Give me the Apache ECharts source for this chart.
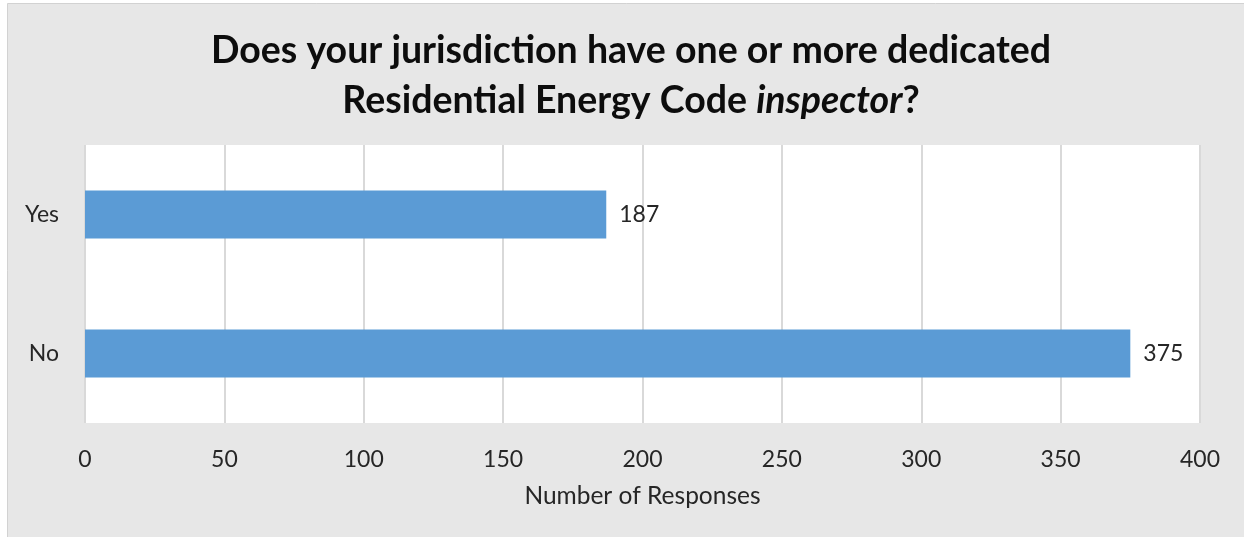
<!DOCTYPE html>
<html>
<head>
<meta charset="utf-8">
<script src="https://cdn.jsdelivr.net/npm/echarts@6/dist/echarts.min.js"></script>
<style>
  html, body { margin: 0; padding: 0; background: #ffffff; }
  #chart { width: 1244px; height: 537px; }
</style>
</head>
<body>
<div id="chart"></div>
<script>
// Survey answers, bottom-to-top order on the category axis
const categories = ['No', 'Yes'];
const responses = [375, 187];
const xTicks = [0, 50, 100, 150, 200, 250, 300, 350, 400];

const FONT = 'Lato, "Open Sans", sans-serif';
const TEXT = '#262626';
const LABEL_SIZE = 23;

const chart = echarts.init(document.getElementById('chart'), null, { renderer: 'canvas' });

chart.setOption({
  animation: false,
  backgroundColor: '#ffffff',
  graphic: [{
    type: 'rect',
    z: -10,
    silent: true,
    shape: { x: 7.5, y: 3.5, width: 1250, height: 550 },
    style: { fill: '#e7e7e7', stroke: '#d2d2d2', lineWidth: 1 }
  }],
  title: {
    left: 626,
    textAlign: 'center',
    top: 21,
    text: '{b|Does your jurisdiction have one or more dedicated}\n{b|Residential Energy Code }{i|inspector}{b|?}',
    textStyle: {
      rich: {
        b: { fontFamily: FONT, fontWeight: 'bold', fontSize: 37.5, color: '#0d0d0d', lineHeight: 50 },
        i: { fontFamily: FONT, fontWeight: 'bold', fontStyle: 'italic', fontSize: 37.5, color: '#0d0d0d', lineHeight: 50 }
      }
    }
  },
  grid: {
    left: 85,
    right: 44,
    top: 145,
    bottom: 114,
    show: true,
    backgroundColor: '#ffffff',
    borderWidth: 0
  },
  xAxis: {
    type: 'value',
    min: xTicks[0],
    max: xTicks[xTicks.length - 1],
    interval: xTicks[1] - xTicks[0],
    name: 'Number of Responses',
    nameLocation: 'middle',
    nameGap: 61,
    nameTextStyle: { fontFamily: FONT, fontSize: 24.5, color: TEXT },
    axisLine: { show: false },
    axisTick: { show: false },
    axisLabel: { fontFamily: FONT, fontSize: LABEL_SIZE, color: TEXT, margin: 25 },
    splitLine: { show: true, lineStyle: { color: '#d9d9d9', width: 2 } }
  },
  yAxis: {
    type: 'category',
    data: categories,
    axisLine: { show: false },
    axisTick: { show: false },
    axisLabel: { fontFamily: FONT, fontSize: LABEL_SIZE, color: TEXT, margin: 26 },
    splitLine: { show: false }
  },
  series: [{
    type: 'bar',
    data: responses,
    barWidth: 48,
    itemStyle: { color: '#5b9bd5' },
    label: {
      show: true,
      position: 'right',
      distance: 13,
      fontFamily: FONT,
      fontSize: LABEL_SIZE,
      color: TEXT
    }
  }]
});
</script>
</body>
</html>
